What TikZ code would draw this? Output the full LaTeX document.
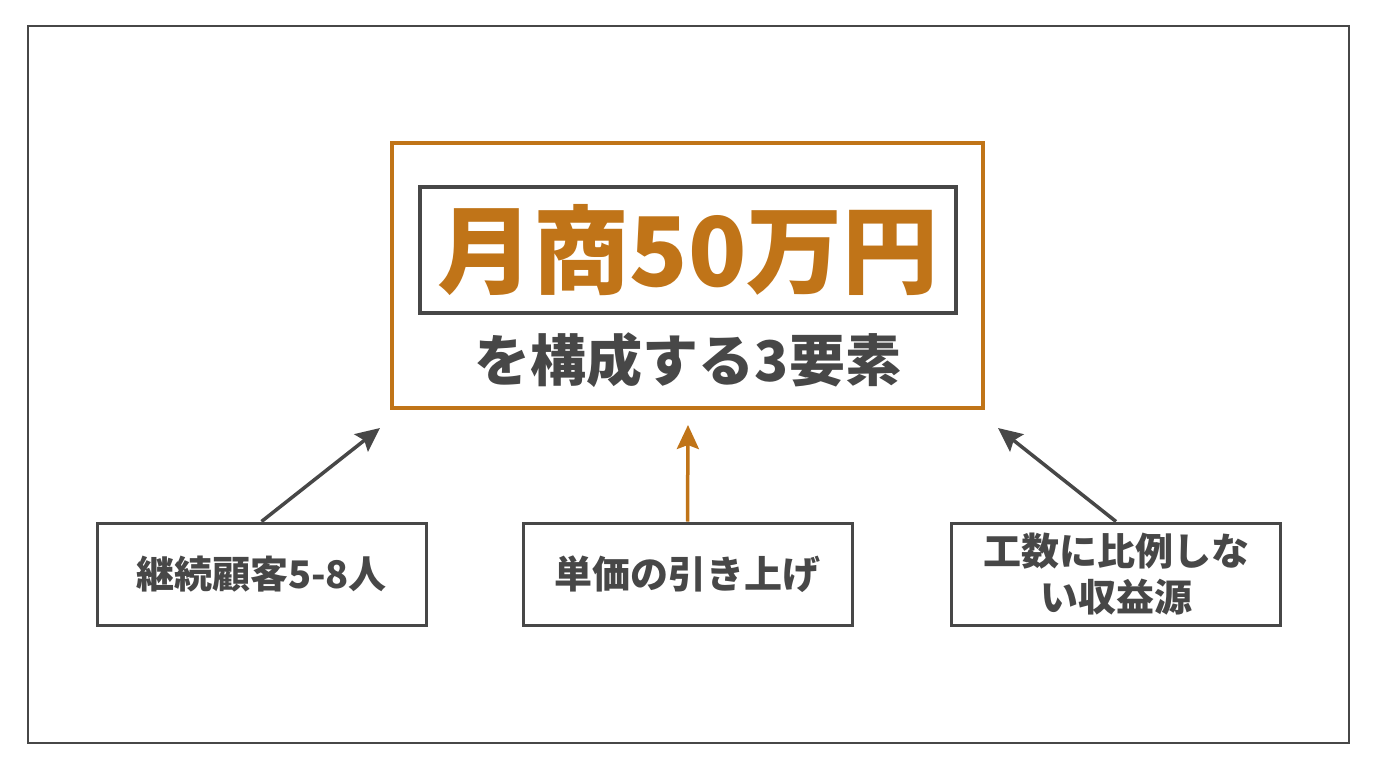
\documentclass[tikz,border=0pt]{standalone}
\usepackage{fontspec}
\setmainfont{Noto Sans CJK JP}
\usetikzlibrary{arrows.meta}
\definecolor{accent}{HTML}{C07418}
\definecolor{ink}{HTML}{474747}

\begin{document}
\begin{tikzpicture}[x=1pt,y=-1pt,
    every node/.style = {font=\bfseries, text=ink},
    part/.style = {draw=ink, line width=3pt, minimum width=329pt,
      minimum height=102pt, align=center, font=\bfseries\fontsize{38}{46}\selectfont},
    link/.style = {ink, line width=3.5pt, -{Stealth[length=24pt,width=22pt,inset=4pt]}}]
  \useasboundingbox[fill=white] (0,0) rectangle (1376,768);
  \draw[ink, line width=2pt] (28,26) rectangle (1349,743);
  % goal box
  \node (goal) [draw=accent, line width=3.5pt, minimum width=591pt,
    minimum height=265pt] at (687.5,275.5) {};
  \node (title) [draw=ink, line width=3.5pt, minimum width=536pt,
    minimum height=126pt, text=accent,
    font=\bfseries\fontsize{96}{104}\selectfont] at (688,250) {月商50万円};
  \node (sub) [font=\bfseries\fontsize{56}{60}\selectfont] at (688,360) {を構成する3要素};
  % three parts
  \node (repeat) [part] at (261.5,574) {継続顧客5-8人};
  \node (price) [part] at (687.5,574) {単価の引き上げ};
  \node (stock) [part] at (1116,574) {工数に比例しな\\い収益源};
  \coordinate (aL) at (380,428);
  \coordinate (aM) at (688,425);
  \coordinate (aR) at (998,428);
  \draw[link] (repeat.north) -- (aL);
  \draw[link, accent] (price.north) -- (aM);
  \draw[link] (stock.north) -- (aR);
\end{tikzpicture}
\end{document}
